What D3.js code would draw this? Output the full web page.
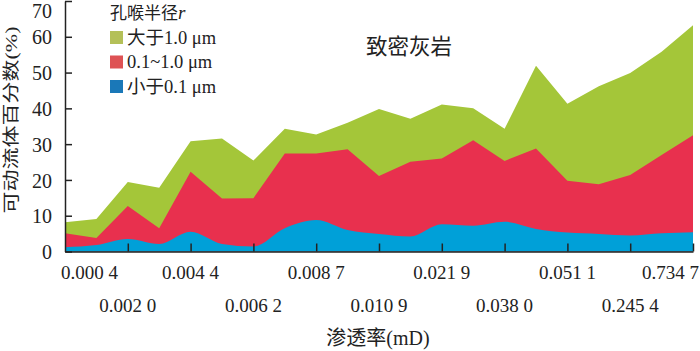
<!DOCTYPE html>
<html>
<head>
<meta charset="utf-8">
<script src="https://cdn.jsdelivr.net/npm/d3@7"></script>
<style>
  body { margin: 0; background: #fff; }
  svg text { font-family: 'Liberation Serif', 'Noto Sans CJK SC', serif; fill: #222; }
</style>
</head>
<body>
<div id="chart"></div>
<script>
// permeability (mD), one label every second sample
let tickLabels = ['0.000 4', '0.002 0', '0.004 4', '0.006 2', '0.008 7', '0.010 9',
  '0.021 9', '0.038 0', '0.051 1', '0.245 4', '0.734 7']

// movable fluid percentage by pore throat radius class, 21 samples
let small = [1.2, 1.8, 3.5, 2.1, 5.5, 2.1, 1.4, 6.5, 8.8, 6.0, 4.9, 4.2, 7.6, 7.2, 8.3, 6.3, 5.3, 4.9, 4.5, 5.1, 5.4]
let middle = [3.9, 2.0, 9.2, 4.4, 16.8, 12.7, 13.5, 20.9, 18.6, 22.6, 16.2, 20.9, 18.4, 23.9, 17.0, 22.5, 14.5, 13.9, 16.9, 21.9, 27.1]
let large = [3.1, 5.3, 6.7, 11.3, 8.5, 16.8, 10.5, 6.9, 5.3, 7.4, 18.7, 12.0, 15.1, 8.9, 9.0, 23.1, 21.5, 27.4, 28.5, 28.8, 30.7]

let keys = ['small', 'middle', 'large']
let areaColors = { small: '#00a0d8', middle: '#e8304e', large: '#a4c639' }
let swatchColors = { small: '#1a78b8', middle: '#de5254', large: '#b4c058' }

let width = 700
let height = 351
let margin = { top: 1, left: 65, right: 7, bottom: 99 }

let svg = d3.select('#chart')
  .append('svg')
  .attr('width', width)
  .attr('height', height)

let rows = small.map((d, i) => ({ index: i, small: d, middle: middle[i], large: large[i] }))

let xScale = d3.scaleLinear()
  .domain([0, rows.length - 1])
  .range([margin.left, width - margin.right])

let yScale = d3.scaleLinear()
  .domain([0, 70])
  .range([height - margin.bottom - 0.5, margin.top])

let stacked = d3.stack().keys(keys)(rows)

// draw back to front, each layer filled down to zero
stacked.slice().reverse().forEach(layer => {
  let area = d3.area()
    .x(d => xScale(d.data.index))
    .y0(yScale(0))
    .y1(d => yScale(d[1]))
    .curve(layer.key === 'small' ? d3.curveMonotoneX : d3.curveLinear)

  svg.append('path')
    .datum(layer)
    .attr('d', area)
    .attr('fill', areaColors[layer.key])
})

// y axis
let yAxis = svg.append('g')
  .attr('transform', `translate(${margin.left},0)`)
  .call(d3.axisLeft(yScale).ticks(7).tickSize(-7).tickSizeOuter(0).tickPadding(13))

yAxis.selectAll('text')
  .style('font-size', '20px')
  .attr('dy', d => d === 70 ? '0.8em' : '0.36em')
yAxis.selectAll('line, path').attr('stroke', '#222').attr('stroke-width', 1.5)

// x axis, ticks point up into the plot
let xAxis = svg.append('g')
  .attr('transform', `translate(0,${yScale(0)})`)
  .call(d3.axisBottom(xScale)
    .tickValues(d3.range(2, rows.length, 2))
    .tickSize(-8)
    .tickSizeOuter(0)
    .tickFormat(''))

xAxis.selectAll('line, path').attr('stroke', '#222').attr('stroke-width', 1.5)

svg.append('g')
  .selectAll('text')
  .data(tickLabels)
  .enter()
  .append('text')
  .attr('x', (d, i) => {
    if (i === 0) return xScale(0) - 4
    if (i === tickLabels.length - 1) return xScale(rows.length - 1) + 6
    return xScale(i * 2)
  })
  .attr('y', (d, i) => i % 2 === 0 ? 279 : 312)
  .attr('text-anchor', (d, i) => i === 0 ? 'start' : i === tickLabels.length - 1 ? 'end' : 'middle')
  .style('font-size', '19px')
  .text(d => d)

// axis titles
svg.append('text')
  .attr('x', 378)
  .attr('y', 345)
  .attr('text-anchor', 'middle')
  .style('font-size', '20px')
  .text('渗透率(mD)')

svg.append('text')
  .attr('transform', 'translate(17,120) rotate(-90) scale(1,0.75)')
  .attr('text-anchor', 'middle')
  .style('font-size', '22px')
  .text('可动流体百分数(%)')

svg.append('text')
  .attr('x', 366)
  .attr('y', 54)
  .style('font-size', '21.5px')
  .text('致密灰岩')

// legend
let legend = svg.append('g').attr('transform', 'translate(110,0)')

let legendTitle = legend.append('text')
  .attr('x', 0)
  .attr('y', 19)
  .style('font-size', '17px')
legendTitle.append('tspan').text('孔喉半径')
legendTitle.append('tspan').style('font-style', 'italic').style('font-size', '19px').text('r')

let legendKeys = ['large', 'middle', 'small']
let legendNames = ['大于1.0 μm', '0.1~1.0 μm', '小于0.1 μm']

legendKeys.forEach((key, i) => {
  let cy = 37.5 + i * 24.5
  legend.append('rect')
    .attr('x', 0)
    .attr('y', cy - 6.5)
    .attr('width', 13)
    .attr('height', 13)
    .attr('fill', swatchColors[key])
  legend.append('text')
    .attr('x', 17)
    .attr('y', cy + 6)
    .style('font-size', '18.5px')
    .text(legendNames[i])
})
</script>
</body>
</html>
